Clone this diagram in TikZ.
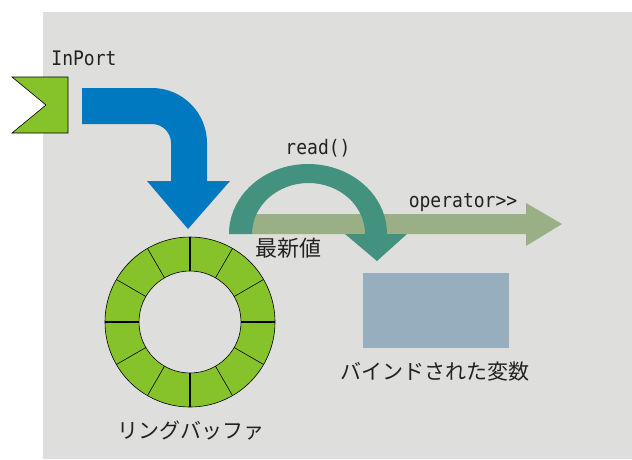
\documentclass[tikz,border=0pt]{standalone}
\usepackage{fontspec}
\usepackage{tikz}
\usetikzlibrary{positioning, calc}
\setmonofont{DejaVu Sans Mono}
\newfontfamily\jpfont{Noto Sans CJK JP}

\definecolor{bggray}{HTML}{DEDEDC}
\definecolor{portgreen}{HTML}{86C22A}
\definecolor{flowblue}{HTML}{0079C1}
\definecolor{readteal}{HTML}{43917F}
\definecolor{opsage}{HTML}{9AAF86}
\definecolor{varblue}{HTML}{97AEBE}
\definecolor{txtgray}{HTML}{222222}

\newcommand{\codetxt}[1]{\scalebox{0.9}[1]{#1}}

\begin{document}
\begin{tikzpicture}[x=1pt, y=-1pt]
			\tikzstyle{codelabel}=[font=\ttfamily\fontsize{20}{22}\selectfont, text=txtgray, inner sep=0]
			\tikzstyle{jplabel}=[font=\jpfont\fontsize{21}{24}\selectfont, text=txtgray, inner sep=0]
			\tikzstyle{varbox}=[fill=varblue, minimum width=146pt, minimum height=75pt, inner sep=0]
			
			\useasboundingbox (0,0) rectangle (632,459);
			\fill [bggray] (43,12) rectangle (632,459);
			
			%% InPort
			\draw [fill=portgreen, draw=black, line width=0.6] (12,77) -- (68,77) -- (68,133) -- (12,133) -- (46,105) -- cycle;
			\node (inport) at (84,58) [codelabel] {\codetxt{InPort}};
			
			%% blue flow into the buffer
			\fill [flowblue] (82,88) -- (152,88) arc[start angle=-90, end angle=0, radius=55]
				-- (207,181) -- (230,181) -- (188,229) -- (147,181) -- (171,181)
				-- (171,143) arc[start angle=0, end angle=-90, radius=19] -- (82,124) -- cycle;
			
			%% ring buffer
			\coordinate (ring) at (190,322);
			\draw [fill=portgreen, line width=0.6] (ring) circle[radius=85];
			\draw [fill=bggray, line width=0.6] (ring) circle[radius=51];
			\foreach \a in {30,60,120,150,210,240,300,330}
				\draw [line width=0.6] ($(ring)+(\a:51)$) -- ($(ring)+(\a:85)$);
			\foreach \a in {0,90,180,270}
				\draw [line width=1.1] ($(ring)+(\a:51)$) -- ($(ring)+(\a:85)$);
			\node (ringlbl) at (191,430) [jplabel] {リングバッファ};
			
			%% operator>>
			\fill [opsage] (252,214) -- (526,214) -- (526,203) -- (562,224) -- (526,246) -- (526,234) -- (252,234) -- cycle;
			\node (oplbl) at (463,203) [codelabel] {\codetxt{operator>{}>}};
			
			%% read()
			\fill [readteal] (229,234) arc[start angle=180, end angle=360, x radius=79, y radius=70]
				-- (407,234) -- (377,261) -- (345,234) -- (365,234)
				arc[start angle=0, end angle=-180, x radius=56.5, y radius=51] -- cycle;
			\node (readlbl) at (318,148) [codelabel] {\codetxt{read()}};
			\node (newest) at (288,248) [jplabel, font=\jpfont\fontsize{22}{24}\selectfont] {最新値};
			
			%% bound variable
			\node (var) at (436,310.5) [varbox] {};
			\node (varlbl) at (435,372) [jplabel] {バインドされた変数};
			\end{tikzpicture}
\end{document}
